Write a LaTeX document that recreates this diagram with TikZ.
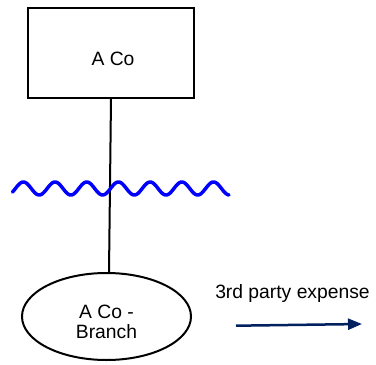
\documentclass[tikz,border=0pt]{standalone}
\usepackage{fontspec}
\setmainfont{Liberation Sans}
\usetikzlibrary{shapes.geometric,arrows.meta}
\definecolor{navy}{RGB}{0,32,96}
\definecolor{wavblue}{RGB}{0,0,255}
\begin{document}
\begin{tikzpicture}[x=1pt,y=-1pt,
  entity/.style={draw=black,line width=2pt,rectangle,inner sep=0pt,minimum width=166pt,minimum height=90pt},
  branchshape/.style={draw=black,line width=2pt,ellipse,inner sep=0pt,minimum width=169pt,minimum height=87pt},
  lbl/.style={font=\fontsize{19.3}{20.5}\selectfont,inner sep=0pt,align=center},
  link/.style={draw=black,line width=2pt},
  flow/.style={draw=navy,line width=2.5pt,-{Triangle[length=14pt,width=11pt]}},
  wave/.style={draw=wavblue,line width=3.5pt,line cap=round,line join=round}]
\useasboundingbox (0,0) rectangle (376,365);
\node[entity] (box) at (111,53) {};
\node[lbl,anchor=base] (boxtxt) at (113,65) {A Co};
\node[branchshape] (branch) at (106.5,316.5) {};
\node[lbl,anchor=base] (brtxt) at (106.5,338.5) {A Co -\\Branch};
\draw[link] (box.south) -- ([xshift=2.5pt]branch.north);
\draw[wave] plot[domain=12.5:229,samples=240,smooth] (\x,{188.5+6.5*cos((\x-39.2)*11.3565)});
\node[lbl,anchor=base] (exptxt) at (292.5,298) {3rd party expense};
\coordinate (ea) at (236,325.7);
\coordinate (eb) at (362,324);
\draw[flow] (ea) -- (eb);
\end{tikzpicture}
\end{document}
